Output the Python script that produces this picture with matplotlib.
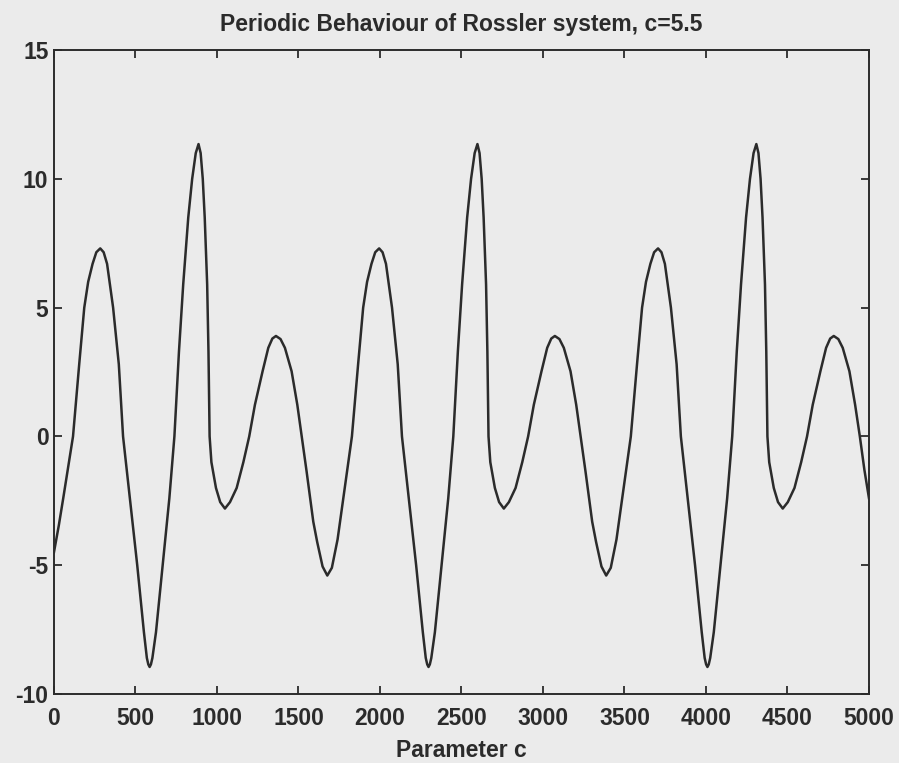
import matplotlib
matplotlib.use("Agg")
import matplotlib.pyplot as plt

t_cycle1 = [0, 30, 57, 117, 155, 186, 210, 237, 260, 284, 305, 326, 363, 398, 424,
            466, 511, 552, 570, 579, 587, 595, 604, 626, 667, 708, 739, 767, 793, 824,
            848, 870, 887, 900, 913, 925, 940, 948, 955, 966, 994, 1020, 1049, 1080, 1121,
            1162, 1198, 1233, 1280, 1315, 1340, 1362, 1390, 1417, 1458, 1493, 1520, 1550, 1591,
            1615, 1648, 1677]
x_cycle1 = [-4.5, -3.45, -2.4, 0.0, 2.8, 5.0, 6.0, 6.7, 7.15, 7.3, 7.15, 6.7, 5.0, 2.8, 0.0,
            -2.4, -5.0, -7.6, -8.6, -8.85, -8.95, -8.85, -8.6, -7.6, -5.0, -2.4, 0.0, 3.3, 5.9, 8.5,
            10.0, 11.0, 11.35, 11.0, 10.0, 8.5, 5.9, 3.3, 0.0, -1.0, -2.0, -2.55, -2.8, -2.55, -2.0,
            -1.0, 0.0, 1.23, 2.53, 3.44, 3.8, 3.9, 3.78, 3.44, 2.53, 1.23, 0.0, -1.36, -3.31,
            -4.1, -5.05, -5.4]

t_cycle2 = [1705, 1740, 1775, 1828, 1866, 1897, 1921, 1948, 1971, 1995, 2016, 2037, 2074, 2109, 2135,
            2177, 2222, 2263, 2281, 2290, 2298, 2306, 2315, 2337, 2378, 2419, 2450, 2478, 2504, 2535,
            2559, 2581, 2598, 2611, 2624, 2636, 2651, 2659, 2666, 2677, 2705, 2731, 2760, 2791, 2832,
            2873, 2909, 2944, 2991, 3026, 3051, 3073, 3101, 3128, 3169, 3204, 3231, 3261, 3302,
            3326, 3359, 3388]
x_cycle2 = [-5.1, -4.0, -2.4, 0.0, 2.8, 5.0, 6.0, 6.7, 7.15, 7.3, 7.15, 6.7, 5.0, 2.8, 0.0,
            -2.4, -5.0, -7.6, -8.6, -8.85, -8.95, -8.85, -8.6, -7.6, -5.0, -2.4, 0.0, 3.3, 5.9, 8.5,
            10.0, 11.0, 11.35, 11.0, 10.0, 8.5, 5.9, 3.3, 0.0, -1.0, -2.0, -2.55, -2.8, -2.55, -2.0,
            -1.0, 0.0, 1.23, 2.53, 3.44, 3.8, 3.9, 3.78, 3.44, 2.53, 1.23, 0.0, -1.36, -3.31,
            -4.1, -5.05, -5.4]

t_cycle3 = [3416, 3451, 3486, 3539, 3577, 3608, 3632, 3659, 3682, 3706, 3727, 3748, 3785, 3820, 3846,
            3888, 3933, 3974, 3992, 4001, 4009, 4017, 4026, 4048, 4089, 4130, 4161, 4189, 4215, 4246,
            4270, 4292, 4309, 4322, 4335, 4347, 4362, 4370, 4377, 4388, 4416, 4442, 4471, 4502, 4543,
            4584, 4620, 4655, 4702, 4737, 4762, 4784, 4812, 4839, 4880, 4915, 4944, 4972, 5000]
x_cycle3 = [-5.1, -4.0, -2.4, 0.0, 2.8, 5.0, 6.0, 6.7, 7.15, 7.3, 7.15, 6.7, 5.0, 2.8, 0.0,
            -2.4, -5.0, -7.6, -8.6, -8.85, -8.95, -8.85, -8.6, -7.6, -5.0, -2.4, 0.0, 3.3, 5.9, 8.5,
            10.0, 11.0, 11.35, 11.0, 10.0, 8.5, 5.9, 3.3, 0.0, -1.0, -2.0, -2.55, -2.8, -2.55, -2.0,
            -1.0, 0.0, 1.23, 2.53, 3.44, 3.8, 3.9, 3.78, 3.44, 2.53, 1.23, 0.0, -1.3, -2.4]

xticks = [0, 500, 1000, 1500, 2000, 2500, 3000, 3500, 4000, 4500, 5000]
yticks = [-10, -5, 0, 5, 10, 15]

t = t_cycle1 + t_cycle2 + t_cycle3
x = x_cycle1 + x_cycle2 + x_cycle3

paper = "#ebebeb"
ink = "#2b2b2b"

plt.rcParams['font.family'] = ['Liberation Sans', 'DejaVu Sans']
plt.rcParams['axes.unicode_minus'] = False

fig = plt.figure(figsize=(8.99, 7.63), dpi=100, facecolor=paper)
ax = fig.add_axes([0.060, 0.0904, 0.9066, 0.844], facecolor=paper)

ax.plot(t, x, color=ink, linewidth=1.8)

ax.set_xlim(0, 5000)
ax.set_ylim(-10, 15)
ax.set_xticks(xticks)
ax.set_yticks(yticks)
ax.tick_params(direction='in', length=6, width=1.3, top=True, right=True,
               labelsize=16.5, colors=ink)
ax.tick_params(axis='x', pad=9)
ax.tick_params(axis='y', pad=4)
for lab in ax.get_xticklabels() + ax.get_yticklabels():
    lab.set_fontweight('bold')
for sp in ax.spines.values():
    sp.set_color(ink)
    sp.set_linewidth(1.4)

ax.set_title('Periodic Behaviour of Rossler system, c=5.5', fontsize=16.5,
             fontweight='bold', color=ink, pad=14)
ax.set_xlabel('Parameter c', fontsize=16.5, fontweight='bold', color=ink, labelpad=7)

fig.savefig('out.png', dpi=100, facecolor=paper)
